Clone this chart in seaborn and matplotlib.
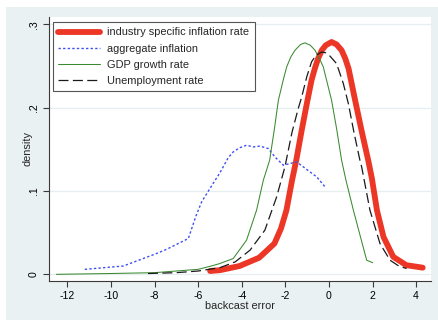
import matplotlib
matplotlib.use("Agg")
import matplotlib.pyplot as plt
from matplotlib.patches import Rectangle
import pandas as pd
import seaborn as sns

# Kernel density estimates of backcast errors, one curve per predictor
industry_x = [-5.45, -5.0, -4.1, -3.2, -2.5, -2.2, -1.95, -1.7, -1.5, -1.25, -1.0, -0.8, -0.65,
              -0.5, -0.33, -0.15, 0.12, 0.35, 0.58, 0.75, 0.9, 1.2, 1.5, 1.8, 1.97, 2.2, 2.5,
              2.95, 3.55, 4.3]
industry_y = [0.004, 0.005, 0.010, 0.020, 0.037, 0.055, 0.077, 0.112, 0.137, 0.173, 0.207, 0.233, 0.247,
              0.259, 0.269, 0.275, 0.279, 0.276, 0.269, 0.259, 0.247, 0.209, 0.172, 0.137, 0.115, 0.077,
              0.045, 0.021, 0.011, 0.008]

aggregate_x = [-11.2, -9.43, -7.91, -7.45, -6.45, -6.1, -5.84, -5.46, -5.0, -4.62, -4.39, -4.1,
               -3.78, -3.47, -3.17, -2.78, -2.48, -2.09, -1.8, -1.48, -0.87, -0.56, -0.18]
aggregate_y = [0.006, 0.010, 0.025, 0.030, 0.043, 0.070, 0.087, 0.103, 0.122, 0.140, 0.147, 0.152,
               0.155, 0.153, 0.154, 0.151, 0.141, 0.131, 0.133, 0.135, 0.123, 0.117, 0.105]

gdp_x = [-12.5, -10.0, -8.0, -6.0, -5.4, -5.0, -4.39, -3.78, -3.32, -3.01, -2.72, -2.5, -2.32,
         -2.1, -1.94, -1.75, -1.56, -1.3, -1.1, -0.85, -0.64, -0.45, -0.26, 0.12, 0.35, 0.58,
         0.78, 1.12, 1.73, 2.0]
gdp_y = [0.000, 0.001, 0.002, 0.006, 0.010, 0.013, 0.019, 0.041, 0.077, 0.113, 0.137, 0.175, 0.209,
         0.233, 0.249, 0.261, 0.269, 0.276, 0.278, 0.275, 0.269, 0.260, 0.249, 0.209, 0.175, 0.137,
         0.113, 0.077, 0.017, 0.014]

unemp_x = [-8.3, -7.0, -6.0, -5.0, -4.3, -3.62, -2.94, -2.4, -2.02, -1.7, -1.41, -1.25, -1.02,
           -0.8, -0.6, -0.33, -0.15, 0.05, 0.35, 0.66, 0.89, 1.15, 1.42, 1.5, 1.88, 2.34, 2.8,
           3.2, 3.56]
unemp_y = [0.001, 0.002, 0.004, 0.008, 0.015, 0.029, 0.053, 0.093, 0.129, 0.170, 0.199, 0.213, 0.237,
           0.255, 0.263, 0.267, 0.266, 0.262, 0.253, 0.229, 0.205, 0.170, 0.137, 0.129, 0.077, 0.037,
           0.017, 0.010, 0.007]

x_ticks = [-12, -10, -8, -6, -4, -2, 0, 2, 4]
y_ticks = [0, 0.1, 0.2, 0.3]
y_tick_labels = ["0", ".1", ".2", ".3"]

sns.set_theme(style="white")
plt.rcParams["font.family"] = ["Liberation Sans", "DejaVu Sans"]

W, H = 439, 321
fig = plt.figure(figsize=(W / 100, H / 100), dpi=100, facecolor="white")

# graph region background, kept behind the axes
bg = Rectangle((6 / W, 1 - 320 / H), (438 - 6) / W, (320 - 7) / H,
               transform=fig.transFigure, facecolor="#EAF1F3",
               edgecolor="none", zorder=-10)
fig.add_artist(bg)

ax = fig.add_axes([49 / W, 1 - 281 / H, (431 - 49) / W, (281 - 17) / H])
ax.set_zorder(1)
ax.set_facecolor("white")

series = [
    ("industry specific inflation rate", industry_x, industry_y,
     dict(color="#EC3626", linewidth=4.2, linestyle="-")),
    ("aggregate inflation", aggregate_x, aggregate_y,
     dict(color="#3F4FF2", linewidth=1.0, linestyle=(0, (1.7, 1.6)))),
    ("GDP growth rate", gdp_x, gdp_y,
     dict(color="#3A8A30", linewidth=0.75, linestyle="-")),
    ("Unemployment rate", unemp_x, unemp_y,
     dict(color="#1A1A1A", linewidth=0.9, linestyle=(0, (8, 3.5)))),
]

for name, xs, ys, style in series:
    df = pd.DataFrame({"x": xs, "y": ys})
    sns.lineplot(data=df, x="x", y="y", ax=ax, label=name, sort=False,
                 estimator=None, zorder=3, **style)

ax.set_xlim(-12.84, 4.68)
ax.set_ylim(-0.008, 0.309)

for yv in y_ticks:
    ax.axhline(yv, color="#E6EEF0", linewidth=0.9, zorder=1)

ax.set_xticks(x_ticks)
ax.set_xticklabels([str(t) for t in x_ticks])
ax.set_yticks(y_ticks)
ax.set_yticklabels(y_tick_labels, rotation=90, va="center")
ax.tick_params(axis="both", which="both", direction="out", length=4, width=0.8,
               color="#3A3A3A", labelsize=7.6, labelcolor="black", left=True, bottom=True)
ax.tick_params(axis="y", pad=3.5)
ax.tick_params(axis="x", pad=3)

for side in ["top", "right"]:
    ax.spines[side].set_visible(False)
for side in ["left", "bottom"]:
    ax.spines[side].set_color("#3A3A3A")
    ax.spines[side].set_linewidth(0.8)

ax.set_xlabel("backcast error", fontsize=7.9, labelpad=0.5)
ax.set_ylabel("density", fontsize=7.9, labelpad=-3.0)

leg = ax.legend(loc="upper left", bbox_to_anchor=(4 / 382, 1 - 5 / 264),
                borderaxespad=0, fontsize=7.9, frameon=True, fancybox=False,
                handlelength=3.8, handletextpad=0.65, labelspacing=0.56,
                borderpad=0.5)
leg.get_frame().set_edgecolor("#555555")
leg.get_frame().set_linewidth(0.8)
leg.get_frame().set_facecolor("white")
leg.get_frame().set_alpha(1)

fig.savefig("out.png", dpi=100, facecolor="white")
